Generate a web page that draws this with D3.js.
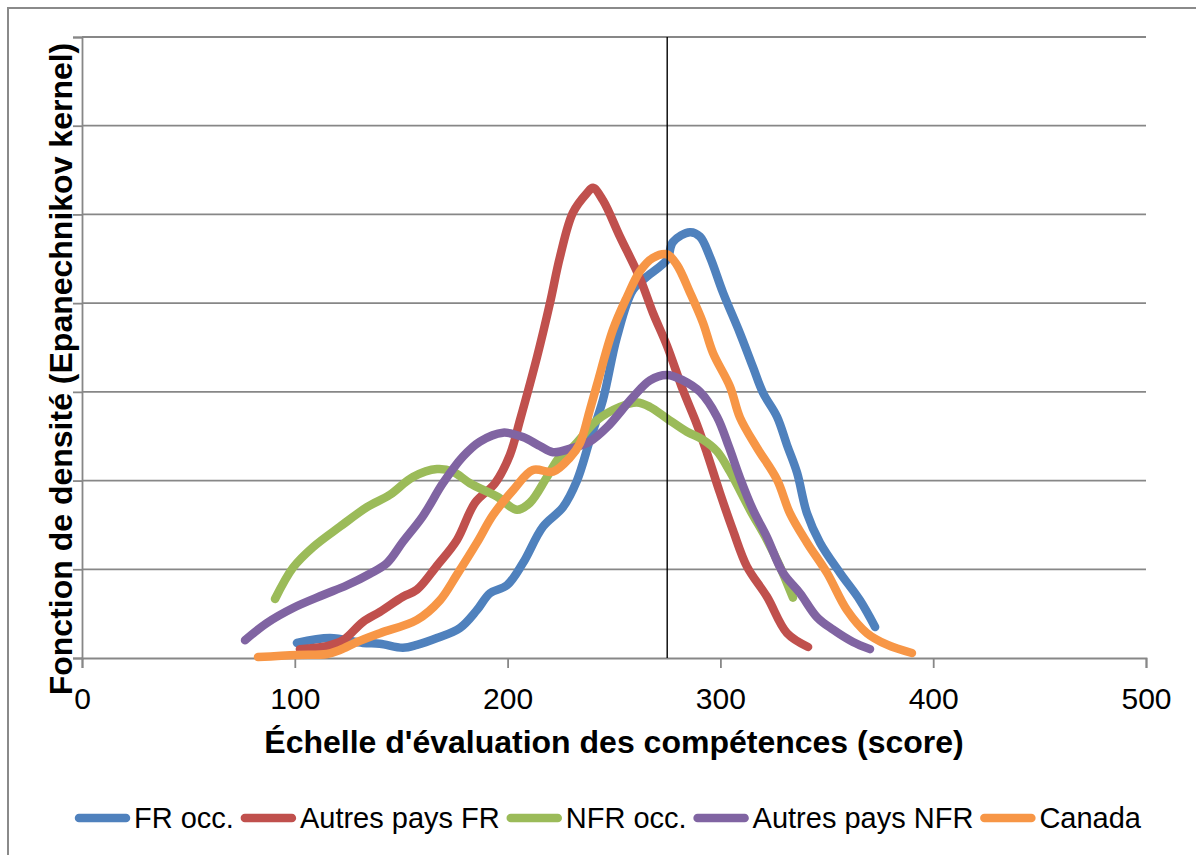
<!DOCTYPE html>
<html lang="fr">
<head>
<meta charset="utf-8">
<title>Fonction de densité des scores</title>
<script src="https://cdn.jsdelivr.net/npm/d3@7"></script>
<style>
  html, body { margin: 0; padding: 0; background: #fff; }
  svg { display: block; }
  text { font-family: Arial, "Liberation Sans", sans-serif; fill: #000; }
</style>
</head>
<body>
<svg id="chart" width="1196" height="855"></svg>
<script>
// Kernel density estimates (Epanechnikov) of literacy scores by group
const seriesNames = ["FR occ.", "Autres pays FR", "NFR occ.", "Autres pays NFR", "Canada"];
const seriesColors = ["#4F81BD", "#C0504D", "#9BBB59", "#8064A2", "#F79646"];

const frOccScore   = [101, 116.5, 132, 140, 150.8, 157.4, 166.8, 177.6, 185.6, 191.7, 199.7, 207.2, 216.6, 226, 232.6, 238.7, 244.8, 251.4, 258.9, 265.5, 274.9, 277.7, 285.7, 290.4, 295.1, 301.2, 309.2, 315.3, 320, 326.6, 331.3, 336, 340.7, 346.8, 356.2, 365.6, 372.7];
const frOccDens    = [0.00017, 0.000225, 0.00017, 0.00016, 0.000115, 0.000147, 0.000225, 0.000338, 0.00054, 0.00073, 0.00082, 0.00107, 0.00148, 0.0017, 0.002, 0.00246, 0.00291, 0.00362, 0.00415, 0.0043, 0.00449, 0.00469, 0.0048, 0.00475, 0.00452, 0.00412, 0.00366, 0.00328, 0.00299, 0.00272, 0.0024, 0.00209, 0.00163, 0.0013, 0.00096, 0.00065, 0.00035];

const autresFrScore = [102.4, 115.1, 122.7, 132, 140, 150.8, 157.4, 166.8, 176.2, 184.7, 194.1, 201.1, 205.8, 213.8, 219.9, 224.6, 230.7, 237.3, 240.1, 244.8, 252.8, 262.2, 268.3, 274.9, 282.4, 289, 293.7, 299.8, 305.9, 312.5, 321.9, 331.3, 341.2];
const autresFrDens  = [0.0001, 0.000135, 0.0002, 0.000406, 0.00052, 0.00069, 0.00077, 0.00104, 0.00133, 0.00175, 0.00197, 0.00229, 0.00268, 0.00339, 0.004, 0.00452, 0.00502, 0.00524, 0.0053, 0.00516, 0.00475, 0.00428, 0.00389, 0.00352, 0.00302, 0.00263, 0.00231, 0.00186, 0.00144, 0.00103, 0.00069, 0.00028, 0.000124];

const nfrOccScore  = [90.7, 99.2, 108.6, 121.2, 133.9, 144.7, 155.5, 166.8, 174.3, 182.3, 195, 204.4, 210.5, 218.5, 224.6, 230.7, 242, 252.8, 260.8, 266.9, 274.9, 284.3, 291.8, 298.4, 304.5, 313.9, 321.9, 328, 334.1];
const nfrOccDens   = [0.000665, 0.00102, 0.00125, 0.00148, 0.0017, 0.00184, 0.00204, 0.00213, 0.0021, 0.00197, 0.00182, 0.00167, 0.00175, 0.00204, 0.00227, 0.00238, 0.00268, 0.00283, 0.00288, 0.00283, 0.0027, 0.00255, 0.00246, 0.00233, 0.0021, 0.00167, 0.00133, 0.00103, 0.00068];

const autresNfrScore = [76.6, 86.9, 99.2, 113.3, 124.5, 135.3, 143.3, 150.8, 160.2, 169.6, 179, 187, 197.8, 207.2, 215.2, 221.3, 230.7, 238.7, 246.7, 258.9, 266.9, 274.9, 282.4, 290.4, 298.4, 304, 309.2, 315.3, 321.9, 329.4, 337.4, 345.4, 352.9, 362.3, 370.3];
const autresNfrDens  = [0.0002, 0.000395, 0.000564, 0.00071, 0.00082, 0.00095, 0.00107, 0.00131, 0.0016, 0.00197, 0.00227, 0.00244, 0.00254, 0.00249, 0.00239, 0.00232, 0.00237, 0.00244, 0.0026, 0.00294, 0.00313, 0.00319, 0.00313, 0.003, 0.00272, 0.00238, 0.00203, 0.00167, 0.00136, 0.00096, 0.00073, 0.00046, 0.00032, 0.00018, 0.0001];

const canadaScore = [82.7, 101, 115.1, 121.2, 129.2, 140, 157.4, 168.2, 176.2, 185.6, 193.1, 202.5, 211.9, 221.3, 229.3, 234, 238.7, 242, 249.5, 256.1, 262.2, 268.3, 274.9, 279.6, 285.7, 291.8, 296.5, 304.5, 309.2, 317.2, 326.6, 332.7, 340.7, 350.1, 359.5, 368.9, 378.3, 390];
const canadaDens  = [0.00001, 0.000034, 0.000045, 0.00009, 0.00018, 0.00028, 0.00043, 0.00065, 0.00094, 0.0013, 0.00161, 0.00189, 0.00212, 0.0021, 0.00226, 0.00242, 0.0028, 0.00308, 0.0037, 0.00407, 0.00436, 0.00451, 0.00455, 0.00443, 0.00412, 0.00378, 0.00344, 0.00306, 0.00271, 0.00237, 0.00201, 0.00163, 0.0013, 0.00096, 0.00054, 0.00028, 0.00015, 0.000056];

const xTicks = [0, 100, 200, 300, 400, 500];
const yTicks = [0, 0.001, 0.002, 0.003, 0.004, 0.005, 0.006, 0.007];
const referenceScore = 275;

const xTitle = "Échelle d'évaluation des compétences (score)";
const yTitle = "Fonction de densité (Epanechnikov kernel)";

const scoreSets = [frOccScore, autresFrScore, nfrOccScore, autresNfrScore, canadaScore];
const densSets  = [frOccDens, autresFrDens, nfrOccDens, autresNfrDens, canadaDens];
const series = seriesNames.map((name, i) => ({
  name,
  color: seriesColors[i],
  points: scoreSets[i].map((s, j) => ({ x: s, y: densSets[i][j] }))
}));

const svg = d3.select("#chart");
const plot = { left: 82, right: 1146, top: 37, bottom: 658 };
const axisGrey = "#878787";

// outer chart frame
svg.append("rect")
  .attr("x", 8).attr("y", 8)
  .attr("width", 1200).attr("height", 860)
  .attr("fill", "none").attr("stroke", "#8a8a8a").attr("stroke-width", 2);

const x = d3.scaleLinear().domain([0, 500]).range([plot.left, plot.right]);
const y = d3.scaleLinear().domain([0, 0.007]).range([plot.bottom, plot.top]);

// horizontal gridlines
svg.append("g")
  .selectAll("line")
  .data(yTicks.slice(1))
  .join("line")
  .attr("x1", plot.left).attr("x2", plot.right)
  .attr("y1", d => y(d)).attr("y2", d => y(d))
  .attr("stroke", axisGrey).attr("stroke-width", 1.8);

// y axis: line and ticks only
const yAxis = svg.append("g")
  .attr("transform", `translate(${plot.left},0)`)
  .call(d3.axisLeft(y).tickValues(yTicks).tickSize(9).tickFormat(""));
yAxis.select(".domain").attr("stroke", axisGrey).attr("stroke-width", 1.8);
yAxis.selectAll(".tick line").attr("stroke", axisGrey).attr("stroke-width", 1.8);

// x axis
const xAxis = svg.append("g")
  .attr("transform", `translate(0,${plot.bottom})`)
  .call(d3.axisBottom(x).tickValues(xTicks).tickSize(10).tickPadding(20).tickFormat(d3.format("d")));
xAxis.select(".domain").attr("stroke", axisGrey).attr("stroke-width", 1.8);
xAxis.selectAll(".tick line").attr("stroke", axisGrey).attr("stroke-width", 1.8);
xAxis.selectAll(".tick text")
  .attr("font-size", 30)
  .attr("font-family", "Arial, 'Liberation Sans', sans-serif")
  .attr("fill", "#000");

// density curves
const line = d3.line()
  .x(d => x(d.x))
  .y(d => y(d.y))
  .curve(d3.curveCatmullRom.alpha(0.5));

svg.append("g")
  .selectAll("path")
  .data(series)
  .join("path")
  .attr("d", d => line(d.points))
  .attr("fill", "none")
  .attr("stroke", d => d.color)
  .attr("stroke-width", 8.5)
  .attr("stroke-linecap", "round")
  .attr("stroke-linejoin", "round");

// reference score marker
svg.append("line")
  .attr("x1", x(referenceScore)).attr("x2", x(referenceScore))
  .attr("y1", plot.top).attr("y2", plot.bottom)
  .attr("stroke", "#000").attr("stroke-width", 1.4);

// axis titles
svg.append("text")
  .attr("x", (plot.left + plot.right) / 2)
  .attr("y", 753)
  .attr("text-anchor", "middle")
  .attr("font-size", 32)
  .attr("font-weight", "bold")
  .text(xTitle);

svg.append("text")
  .attr("transform", "translate(72,369) rotate(-90)")
  .attr("text-anchor", "middle")
  .attr("font-size", 32)
  .attr("font-weight", "bold")
  .text(yTitle);

// legend
const legend = svg.append("g");
let lx = 75;
const ly = 818;
series.forEach(s => {
  legend.append("line")
    .attr("x1", lx + 4).attr("x2", lx + 51)
    .attr("y1", ly).attr("y2", ly)
    .attr("stroke", s.color).attr("stroke-width", 8.5)
    .attr("stroke-linecap", "round");
  const t = legend.append("text")
    .attr("x", lx + 59)
    .attr("y", ly + 10)
    .attr("font-size", 29)
    .text(s.name);
  lx = lx + 59 + t.node().getComputedTextLength() + 7;
});
</script>
</body>
</html>
